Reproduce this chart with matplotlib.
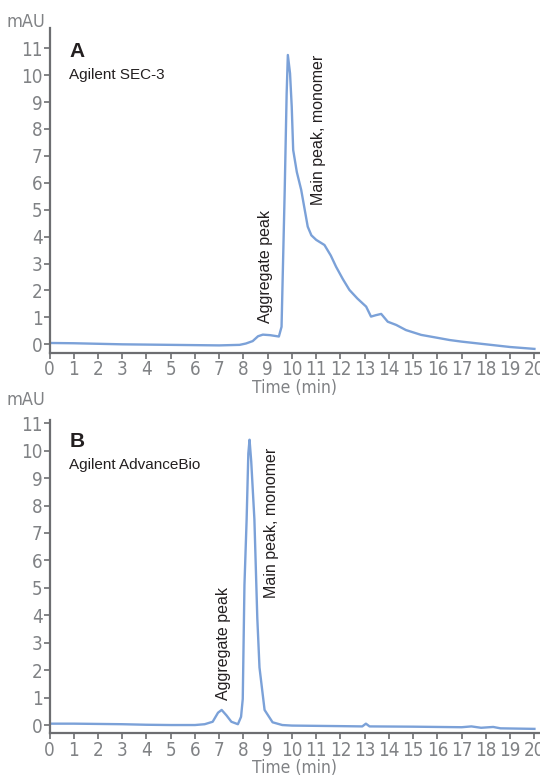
import matplotlib
matplotlib.use('Agg')
import matplotlib.pyplot as plt

plt.rcParams['font.family'] = ['DejaVu Sans']
plt.rcParams['font.stretch'] = 'condensed'

# Chromatogram A - Agilent SEC-3 (time in min, absorbance in mAU)
sec3_time = [0, 1, 2, 3, 4, 5, 6, 7, 7.84, 8.1, 8.38, 8.6, 8.8, 9.1, 9.46, 9.57,
             9.7, 9.78, 9.83, 9.92, 9.99, 10.05, 10.2, 10.38, 10.65, 10.8, 11.0,
             11.34, 11.6, 11.82, 12.1, 12.37, 12.7, 13.06, 13.26, 13.45, 13.68,
             13.95, 14.3, 14.7, 15.33, 15.95, 16.5, 17, 18, 19, 20]
sec3_mau = [0.05, 0.04, 0.02, 0.0, -0.01, -0.02, -0.03, -0.04, -0.02, 0.03, 0.12,
            0.3, 0.36, 0.34, 0.29, 0.65, 5.7, 9.3, 10.75, 10.07, 8.83, 7.22, 6.4,
            5.74, 4.37, 4.05, 3.88, 3.69, 3.3, 2.88, 2.42, 2.02, 1.7, 1.40, 1.03,
            1.08, 1.13, 0.84, 0.72, 0.53, 0.35, 0.25, 0.16, 0.1, 0.0, -0.1, -0.17]

# Chromatogram B - Agilent AdvanceBio
adv_time = [0, 1, 2, 3, 4, 5, 6, 6.4, 6.73, 6.95, 7.1, 7.3, 7.5, 7.77, 7.9, 7.97,
            8.04, 8.13, 8.2, 8.25, 8.32, 8.45, 8.57, 8.66, 8.87, 9.2, 9.6, 10, 12,
            12.9, 13.05, 13.2, 15, 17, 17.4, 17.8, 18.3, 18.6, 20]
adv_mau = [0.05, 0.05, 0.04, 0.03, 0.01, 0.0, 0.0, 0.03, 0.12, 0.45, 0.55, 0.35,
           0.12, 0.03, 0.3, 0.95, 5.1, 7.5, 9.9, 10.4, 9.6, 7.5, 3.9, 2.1, 0.55,
           0.1, 0.0, -0.02, -0.04, -0.05, 0.05, -0.05, -0.06, -0.08, -0.05, -0.1,
           -0.07, -0.12, -0.14]

x_ticks = list(range(0, 21))
y_ticks = list(range(0, 12))

line_col = '#7ba1d8'
axis_col = '#6d6e71'
label_col = '#808285'

fig = plt.figure(figsize=(5.4, 7.78), dpi=100)

panels = [
    dict(rect=[0.0917, 0.5467, 0.9083, 0.4169], ylim=(-0.31, 11.74), t=sec3_time, y=sec3_mau,
         letter='A', name='Agilent SEC-3', agg=(8.89, 0.79), main=(11.11, 5.18), mau_y=0.9653),
    dict(rect=[0.0917, 0.0575, 0.9083, 0.4027], ylim=(-0.30, 11.12), t=adv_time, y=adv_mau,
         letter='B', name='Agilent AdvanceBio', agg=(7.17, 0.9), main=(9.16, 4.63), mau_y=0.4794),
]

for p in panels:
    ax = fig.add_axes(p['rect'])
    ax.plot(p['t'], p['y'], color=line_col, lw=1.7, solid_joinstyle='round')
    ax.set_xlim(0, 20.23)
    ax.set_ylim(*p['ylim'])
    ax.set_xticks(x_ticks)
    ax.set_yticks(y_ticks)
    for s in ['top', 'right']:
        ax.spines[s].set_visible(False)
    for s in ['left', 'bottom']:
        ax.spines[s].set_color(axis_col)
        ax.spines[s].set_linewidth(1.6)
    ax.tick_params(axis='both', colors=axis_col, labelcolor=label_col, labelsize=13.5,
                   length=4, width=1.2)
    ax.tick_params(axis='y', pad=1)
    ax.tick_params(axis='x', pad=1.5)
    ax.set_xlabel('Time (min)', color=label_col, fontsize=12.5, labelpad=-0.5)
    ax.text(0.04, 0.93, p['letter'], transform=ax.transAxes, fontsize=15, fontweight='bold',
            color='#231f20', va='center', family='Liberation Sans')
    ax.text(0.04, 0.855, p['name'], transform=ax.transAxes, fontsize=11,
            color='#231f20', va='center', family='Liberation Sans')
    ax.text(p['agg'][0], p['agg'][1], 'Aggregate peak', rotation=90, ha='center', va='bottom',
            fontsize=11.5, color='#231f20', family='Liberation Sans')
    ax.text(p['main'][0], p['main'][1], 'Main peak, monomer', rotation=90, ha='center',
            va='bottom', fontsize=11.5, color='#231f20', family='Liberation Sans')
    fig.text(0.0833, p['mau_y'], 'mAU', ha='right', va='baseline', fontsize=13, color=label_col)

fig.savefig('out.png', dpi=100)
